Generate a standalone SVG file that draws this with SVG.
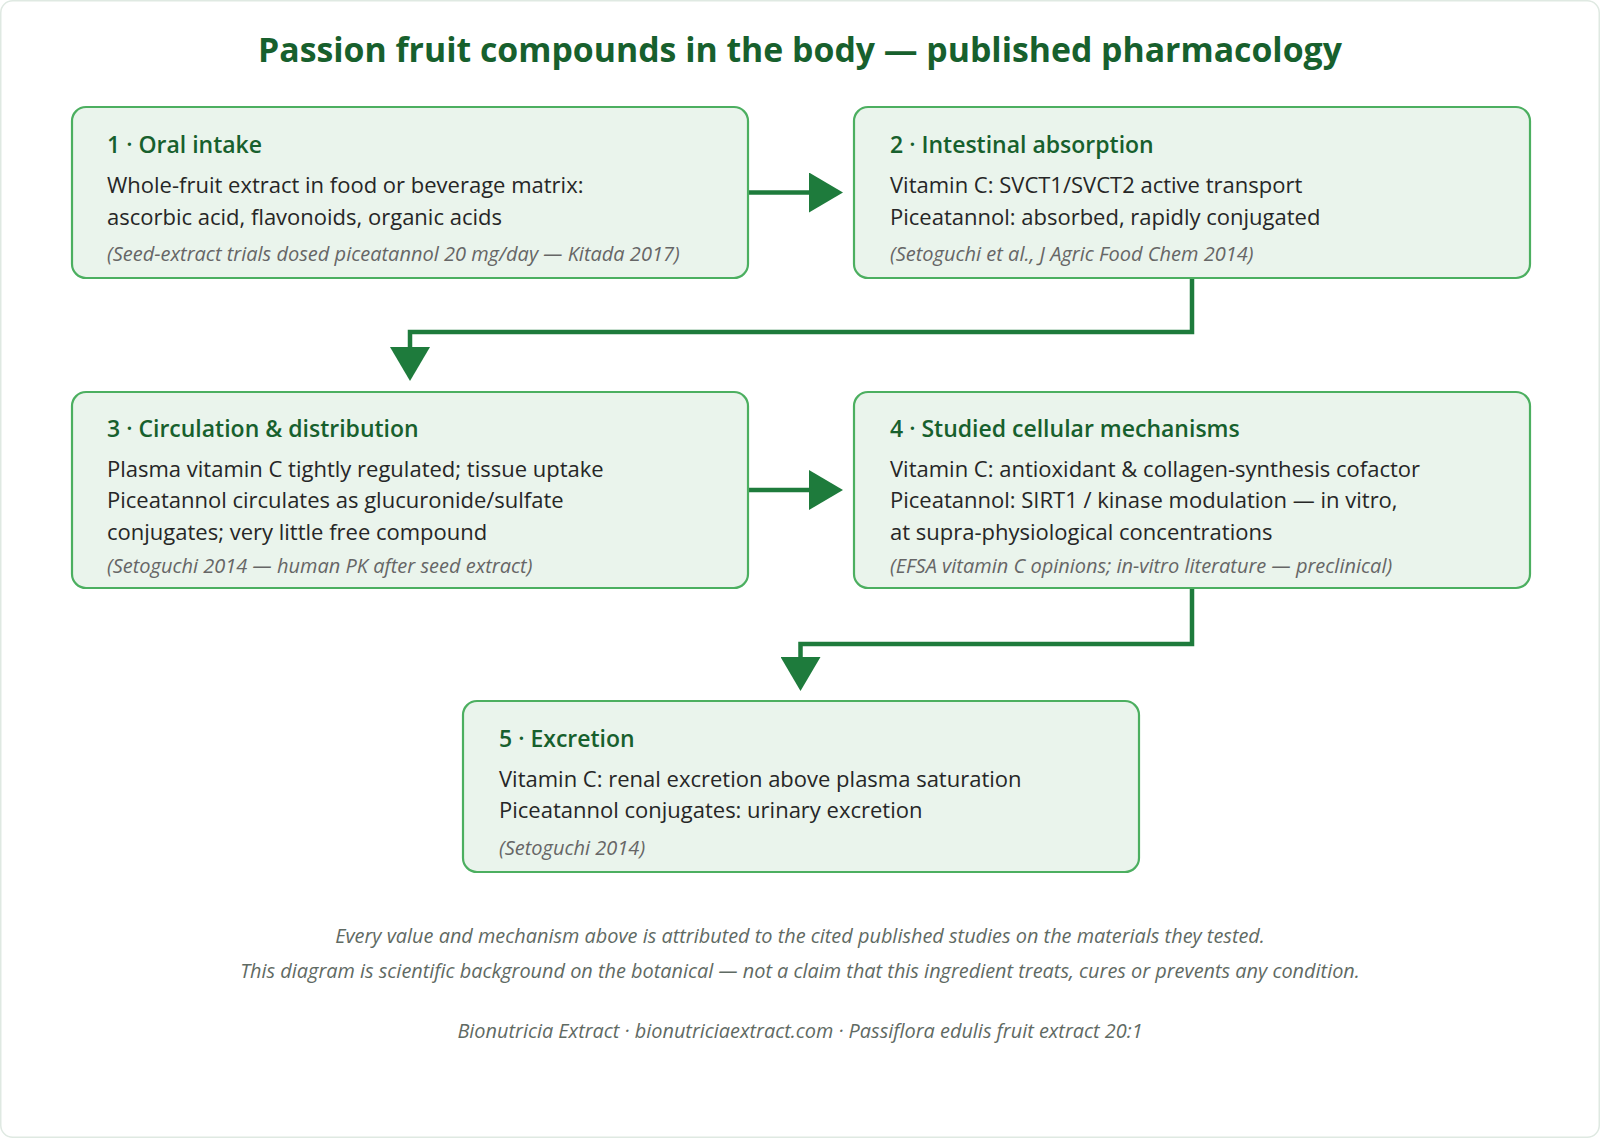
<svg xmlns="http://www.w3.org/2000/svg" width="1600" height="1138" viewBox="0 0 1600 1138">
  <defs>
    <style>
      .frame { fill: #ffffff; stroke: #dfe9e2; stroke-width: 1.5; }
      .box { fill: #eaf4ec; stroke: #4caf60; stroke-width: 2.2; }
      .title { font-family: "Open Sans", "Noto Sans", "Liberation Sans", sans-serif; font-weight: 700; font-size: 33.8px; fill: #17602d; }
      .htxt { font-family: "Open Sans", "Noto Sans", "Liberation Sans", sans-serif; font-weight: 600; font-size: 23px; fill: #17602d; }
      .btxt { font-family: "Open Sans", "Noto Sans", "Liberation Sans", sans-serif; font-weight: 400; font-size: 22px; fill: #262626; }
      .ctxt { font-family: "Open Sans", "Noto Sans", "Liberation Sans", sans-serif; font-style: italic; font-size: 20px; fill: #666666; }
      .ftxt { font-family: "Open Sans", "Noto Sans", "Liberation Sans", sans-serif; font-style: italic; font-size: 19.9px; fill: #5f6a63; }
      .conn { fill: none; stroke: #1e7b3c; stroke-width: 4.5; }
    </style>
    <marker id="arrow" markerUnits="userSpaceOnUse" markerWidth="34" markerHeight="40" refX="0" refY="20" orient="auto" viewBox="0 0 34 40">
      <path d="M0,0 L34,20 L0,40 Z" fill="#1e7b3c"/>
    </marker>
  </defs>

  <rect class="frame" x="0.75" y="0.75" width="1598.5" height="1136.5" rx="12"/>

  <text class="title" x="800" y="62" text-anchor="middle">Passion fruit compounds in the body — published pharmacology</text>

  <g id="connectors">
    <path class="conn" d="M748,192.5 H809" marker-end="url(#arrow)"/>
    <path class="conn" d="M1192,278 V332 H410 V347" marker-end="url(#arrow)"/>
    <path class="conn" d="M748,490 H809" marker-end="url(#arrow)"/>
    <path class="conn" d="M1192,588 V644 H800.5 V657" marker-end="url(#arrow)"/>
  </g>

  <g id="node1">
    <rect class="box" x="72" y="107" width="676" height="171" rx="14"/>
    <text class="htxt" x="107" y="153">1 · Oral intake</text>
    <text class="btxt" x="107" y="193">Whole-fruit extract in food or beverage matrix:</text>
    <text class="btxt" x="107" y="225">ascorbic acid, flavonoids, organic acids</text>
    <text class="ctxt" x="107" y="261">(Seed-extract trials dosed piceatannol 20 mg/day — Kitada 2017)</text>
  </g>

  <g id="node2">
    <rect class="box" x="854" y="107" width="676" height="171" rx="14"/>
    <text class="htxt" x="890" y="153">2 · Intestinal absorption</text>
    <text class="btxt" x="890" y="193">Vitamin C: SVCT1/SVCT2 active transport</text>
    <text class="btxt" x="890" y="225">Piceatannol: absorbed, rapidly conjugated</text>
    <text class="ctxt" x="890" y="261">(Setoguchi et al., J Agric Food Chem 2014)</text>
  </g>

  <g id="node3">
    <rect class="box" x="72" y="392" width="676" height="196" rx="14"/>
    <text class="htxt" x="107" y="437">3 · Circulation &amp; distribution</text>
    <text class="btxt" x="107" y="477">Plasma vitamin C tightly regulated; tissue uptake</text>
    <text class="btxt" x="107" y="508">Piceatannol circulates as glucuronide/sulfate</text>
    <text class="btxt" x="107" y="540">conjugates; very little free compound</text>
    <text class="ctxt" x="107" y="573">(Setoguchi 2014 — human PK after seed extract)</text>
  </g>

  <g id="node4">
    <rect class="box" x="854" y="392" width="676" height="196" rx="14"/>
    <text class="htxt" x="890" y="437">4 · Studied cellular mechanisms</text>
    <text class="btxt" x="890" y="477">Vitamin C: antioxidant &amp; collagen-synthesis cofactor</text>
    <text class="btxt" x="890" y="508">Piceatannol: SIRT1 / kinase modulation — in vitro,</text>
    <text class="btxt" x="890" y="540">at supra-physiological concentrations</text>
    <text class="ctxt" x="890" y="573">(EFSA vitamin C opinions; in-vitro literature — preclinical)</text>
  </g>

  <g id="node5">
    <rect class="box" x="463" y="701" width="676" height="171" rx="14"/>
    <text class="htxt" x="499" y="747">5 · Excretion</text>
    <text class="btxt" x="499" y="787">Vitamin C: renal excretion above plasma saturation</text>
    <text class="btxt" x="499" y="818">Piceatannol conjugates: urinary excretion</text>
    <text class="ctxt" x="499" y="855">(Setoguchi 2014)</text>
  </g>

  <g id="footer">
    <text class="ftxt" x="800" y="943" text-anchor="middle">Every value and mechanism above is attributed to the cited published studies on the materials they tested.</text>
    <text class="ftxt" x="800" y="978" text-anchor="middle">This diagram is scientific background on the botanical — not a claim that this ingredient treats, cures or prevents any condition.</text>
    <text class="ftxt" x="800" y="1038" text-anchor="middle">Bionutricia Extract · bionutriciaextract.com · Passiflora edulis fruit extract 20:1</text>
  </g>
</svg>
